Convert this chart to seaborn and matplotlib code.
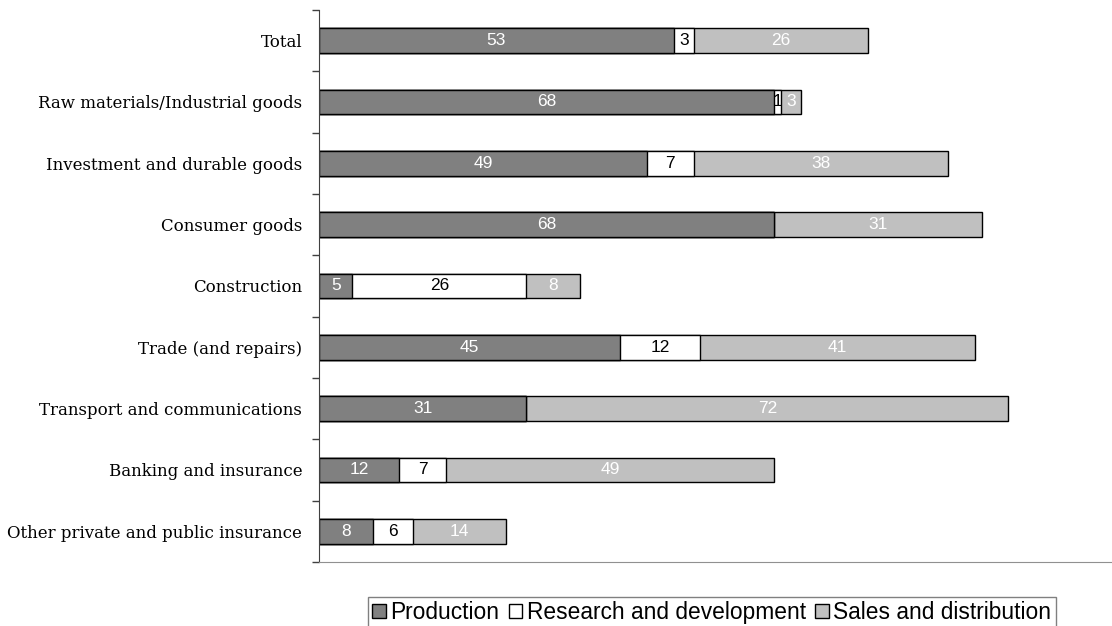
import numpy as np
import pandas as pd
import matplotlib
matplotlib.use("Agg")
import matplotlib.pyplot as plt
import matplotlib.patches as mpatches
import seaborn as sns

# datos del grafico
sectores = ['Total', 'Raw materials/Industrial goods', 'Investment and durable goods',
            'Consumer goods', 'Construction', 'Trade (and repairs)',
            'Transport and communications', 'Banking and insurance',
            'Other private and public insurance']
produccion = [53, 68, 49, 68, 5, 45, 31, 12, 8]
investigacion = [3, 1, 7, 0, 26, 12, 0, 7, 6]
ventas = [26, 3, 38, 31, 8, 41, 72, 49, 14]
series = ['Production', 'Research and development', 'Sales and distribution']
colores = ['#808080', '#ffffff', '#c0c0c0']
color_texto = ['white', 'black', 'white']

df = pd.DataFrame({'sector': sectores, 'prod': produccion,
                   'rd': investigacion, 'ventas': ventas})
df['c1'] = df['prod']
df['c2'] = df['prod'] + df['rd']
df['c3'] = df['c2'] + df['ventas']

sns.set_style("white")
plt.rcParams['text.color'] = 'black'
plt.rcParams['ytick.color'] = 'black'
fig = plt.figure(figsize=(11.12, 6.26), dpi=100)
ax = fig.add_axes([319 / 1112, 1 - 562 / 626, 1 - 319 / 1112, (562 - 10) / 626])

# barras apiladas: se dibuja el acumulado de atras hacia adelante
for col, color in zip(['c3', 'c2', 'c1'], colores[::-1]):
    sns.barplot(data=df, y='sector', x=col, order=sectores, color=color,
                edgecolor='black', linewidth=1, width=0.4, orient='h',
                errorbar=None, ax=ax)

# etiquetas de valores en el centro de cada segmento
for i in range(len(df)):
    inicio = 0
    for k, col in enumerate(['prod', 'rd', 'ventas']):
        v = df.loc[i, col]
        if v > 0:
            ax.text(inicio + v / 2, i, str(v), ha='center', va='center',
                    color=color_texto[k], fontsize=12.5, family='Liberation Sans')
        inicio += v

ax.set_xlim(0, 118.5)
ax.set_ylim(len(sectores) - 0.5, -0.5)
ax.set_xlabel('')
ax.set_ylabel('')
ax.set_xticks([])
ax.set_yticks(range(len(sectores)))
ax.set_yticklabels(sectores, family='DejaVu Serif', fontsize=12, color='black')
ax.set_yticks(np.arange(-0.5, len(sectores), 1), minor=True)
ax.tick_params(axis='y', which='major', length=0, pad=12)
ax.tick_params(axis='y', which='minor', length=5, width=1, color='#404040', left=True)

for s in ['top', 'right']:
    ax.spines[s].set_visible(False)
ax.spines['left'].set_color('#404040')
ax.spines['bottom'].set_color('#909090')

handles = [mpatches.Patch(facecolor=c, edgecolor='black', linewidth=1, label=s)
           for c, s in zip(colores, series)]
leg = fig.legend(handles=handles, loc='upper center', bbox_to_anchor=(0.64, 0.047),
                 ncol=3, frameon=True, fancybox=False,
                 handlelength=0.6, handleheight=0.6, handletextpad=0.2,
                 columnspacing=0.4, borderpad=0.2, borderaxespad=0,
                 prop={'family': 'Liberation Sans', 'size': 16.4})
leg.get_frame().set_edgecolor('#606060')
leg.get_frame().set_linewidth(1)
for t in leg.get_texts():
    t.set_color('black')

fig.savefig('out.png', dpi=100)
